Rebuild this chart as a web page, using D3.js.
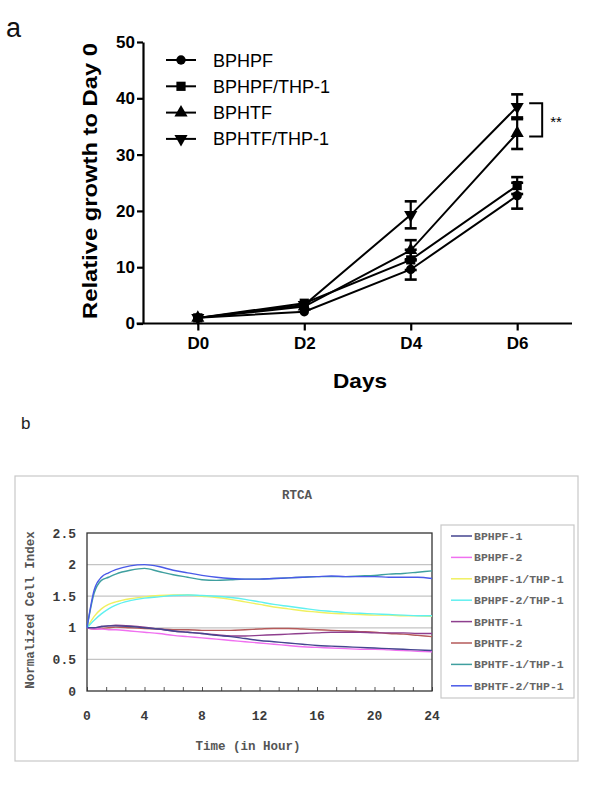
<!DOCTYPE html>
<html><head><meta charset="utf-8">
<script src="https://cdn.jsdelivr.net/npm/d3@7"></script>
<style>
html,body{margin:0;padding:0;background:#fff;}
svg{display:block;}
</style></head>
<body>
<svg id="c" width="606" height="785"></svg>
<script>
// ---------- Panel a data ----------
const days = ["D0","D2","D4","D6"];
const dayNums = [0,2,4,6];
const seriesNamesA = ["BPHPF","BPHPF/THP-1","BPHTF","BPHTF/THP-1"];
const bphpf     = [1, 2.1, 9.6, 22.7];
const bphpfErr  = [0.2, 0.3, 1.8, 2.3];
const bphpfThp  = [1, 3.6, 11.3, 24.5];
const bphpfThpErr = [0.2, 0.4, 1.8, 1.5];
const bphtf     = [1, 3.0, 13.0, 33.8];
const bphtfErr  = [0.2, 0.3, 1.8, 2.8];
const bphtfThp  = [1, 3.3, 19.3, 38.5];
const bphtfThpErr = [0.2, 0.3, 2.4, 2.2];
const yTicksA = [0,10,20,30,40,50];

// ---------- Panel b data ----------
const hours = [0,0.5,1,1.5,2,3,4,5,6,7,8,9,10,11,12,13,14,15,16,17,18,19,20,21,22,23,24];
const seriesNamesB = ["BPHPF-1","BPHPF-2","BPHPF-1/THP-1","BPHPF-2/THP-1","BPHTF-1","BPHTF-2","BPHTF-1/THP-1","BPHTF-2/THP-1"];
const bphpf1    = [1,1.0,1.02,1.03,1.03,1.02,1.0,0.98,0.95,0.93,0.91,0.88,0.86,0.83,0.8,0.78,0.76,0.74,0.72,0.71,0.7,0.69,0.68,0.67,0.66,0.65,0.64];
const bphpf2    = [1,0.98,0.98,0.97,0.97,0.95,0.93,0.91,0.88,0.86,0.84,0.82,0.8,0.78,0.76,0.74,0.72,0.7,0.69,0.68,0.67,0.66,0.66,0.65,0.64,0.63,0.62];
const bphpf1Thp = [1,1.18,1.3,1.37,1.41,1.46,1.49,1.51,1.52,1.52,1.5,1.48,1.45,1.41,1.37,1.33,1.3,1.27,1.25,1.23,1.22,1.21,1.2,1.2,1.19,1.19,1.18];
const bphpf2Thp = [1,1.12,1.22,1.3,1.36,1.43,1.47,1.49,1.51,1.52,1.51,1.5,1.48,1.45,1.41,1.37,1.34,1.31,1.28,1.26,1.24,1.23,1.22,1.21,1.2,1.19,1.19];
const bphtf1    = [1,1.0,1.02,1.03,1.04,1.03,1.01,0.98,0.95,0.93,0.91,0.89,0.87,0.87,0.88,0.89,0.9,0.91,0.92,0.93,0.93,0.93,0.92,0.92,0.92,0.91,0.91];
const bphtf2    = [1,0.98,0.99,1.0,1.01,1.0,0.99,0.98,0.97,0.97,0.96,0.96,0.96,0.97,0.98,0.99,0.99,0.98,0.97,0.96,0.95,0.94,0.93,0.91,0.9,0.88,0.86];
const bphtf1Thp = [1,1.55,1.75,1.8,1.85,1.91,1.94,1.89,1.84,1.8,1.76,1.75,1.76,1.77,1.77,1.78,1.79,1.8,1.81,1.81,1.81,1.82,1.83,1.85,1.86,1.88,1.9];
const bphtf2Thp = [1,1.6,1.8,1.87,1.92,1.98,2.0,1.97,1.91,1.87,1.83,1.8,1.78,1.77,1.77,1.78,1.79,1.8,1.81,1.82,1.81,1.81,1.81,1.8,1.8,1.8,1.78];
const colorsB = ["#45458f","#f070f0","#f0f060","#60f0f0","#8e3f8e","#b55a5a","#3f9f9f","#4a5ae8"];
const yTicksB = [0,0.5,1,1.5,2,2.5];
const yTickLabelsB = ["0","0.5","1","1.5","2","2.5"];
const xLabelTicksB = [0,4,8,12,16,20,24];

const svg = d3.select("#c");

// ================= Panel a =================
const gA = svg.append("g");
gA.append("text").attr("x",6).attr("y",37).attr("font-family","Liberation Sans, Arial").attr("font-size",27).attr("fill","#111").text("a");

const xA = d3.scaleLinear().domain([-1.03,7.03]).range([143,572]);
const yA = d3.scaleLinear().domain([0,50]).range([323.5,42]);

const yAxA = gA.append("g").attr("transform","translate(143,0)")
  .call(d3.axisLeft(yA).tickValues(yTicksA).tickSize(6).tickSizeOuter(0));
yAxA.select(".domain").attr("stroke","#000").attr("stroke-width",2.2);
yAxA.selectAll(".tick line").attr("stroke","#000").attr("stroke-width",2.2);
yAxA.selectAll(".tick text").attr("font-family","Liberation Sans, Arial").attr("font-weight","bold").attr("font-size",17).attr("fill","#000").attr("x",-8);

const xAxA = gA.append("g").attr("transform","translate(0,323.5)")
  .call(d3.axisBottom(xA).tickValues(dayNums).tickFormat((d,i)=>days[i]).tickSize(7).tickSizeOuter(0));
xAxA.select(".domain").remove();
xAxA.append("line").attr("x1",xA(-1.15)).attr("x2",xA(7.03)).attr("y1",0).attr("y2",0).attr("stroke","#000").attr("stroke-width",2.2);
xAxA.selectAll(".tick line").attr("stroke","#000").attr("stroke-width",2.2);
xAxA.selectAll(".tick text").attr("font-family","Liberation Sans, Arial").attr("font-weight","bold").attr("font-size",17).attr("fill","#000").attr("y",13);

gA.append("text").attr("transform","translate(97,181) rotate(-90)").attr("text-anchor","middle")
  .attr("font-family","Liberation Sans, Arial").attr("font-weight","bold").attr("font-size",20)
  .attr("textLength",276).attr("lengthAdjust","spacingAndGlyphs").text("Relative growth to Day 0");
gA.append("text").attr("x",360).attr("y",388).attr("text-anchor","middle")
  .attr("font-family","Liberation Sans, Arial").attr("font-weight","bold").attr("font-size",21)
  .attr("textLength",54).attr("lengthAdjust","spacingAndGlyphs").text("Days");

const seriesA = [
  {name:seriesNamesA[0], v:bphpf, e:bphpfErr, sym:d3.symbolCircle, size:70, rot:0},
  {name:seriesNamesA[1], v:bphpfThp, e:bphpfThpErr, sym:d3.symbolSquare, size:85, rot:0},
  {name:seriesNamesA[2], v:bphtf, e:bphtfErr, sym:d3.symbolTriangle, size:75, rot:0},
  {name:seriesNamesA[3], v:bphtfThp, e:bphtfThpErr, sym:d3.symbolTriangle, size:75, rot:180}
];
const lineA = d3.line().x((d,i)=>xA(dayNums[i])).y(d=>yA(d));
seriesA.forEach(s=>{
  gA.append("path").attr("d",lineA(s.v)).attr("fill","none").attr("stroke","#000").attr("stroke-width",2);
  s.v.forEach((v,i)=>{
    const cx = xA(dayNums[i]);
    const e = s.e[i];
    if (e > 0.5) {
      gA.append("line").attr("x1",cx).attr("x2",cx).attr("y1",yA(v-e)).attr("y2",yA(v+e)).attr("stroke","#000").attr("stroke-width",2.2);
      [v-e,v+e].forEach(w=>gA.append("line").attr("x1",cx-6).attr("x2",cx+6).attr("y1",yA(w)).attr("y2",yA(w)).attr("stroke","#000").attr("stroke-width",2.6));
    }
    gA.append("path").attr("d",d3.symbol(s.sym,s.size)()).attr("transform",`translate(${cx},${yA(v)}) rotate(${s.rot})`).attr("fill","#000");
  });
});

const bx = xA(6)+12;
gA.append("path").attr("d",`M${bx},${yA(bphtfThp[3]+0.6)}H${bx+13}V${yA(bphtf[3]-0.6)}H${bx}`)
  .attr("fill","none").attr("stroke","#000").attr("stroke-width",2);
gA.append("text").attr("x",bx+21).attr("y",yA((bphtfThp[3]+bphtf[3])/2)+7).attr("font-family","Liberation Sans, Arial").attr("font-size",15).text("**");

seriesA.forEach((s,i)=>{
  const ly = 60 + i*26.3;
  gA.append("line").attr("x1",166).attr("x2",196).attr("y1",ly).attr("y2",ly).attr("stroke","#000").attr("stroke-width",2);
  gA.append("path").attr("d",d3.symbol(s.sym,s.size)()).attr("transform",`translate(181,${ly}) rotate(${s.rot})`).attr("fill","#000");
  gA.append("text").attr("x",213).attr("y",ly+6.5).attr("font-family","Liberation Sans, Arial").attr("font-size",18).attr("fill","#000").text(s.name);
});

// ================= Panel b =================
const gB = svg.append("g");
gB.append("text").attr("x",21).attr("y",429).attr("font-family","Liberation Sans, Arial").attr("font-size",17).attr("fill","#222").text("b");
gB.append("rect").attr("x",15).attr("y",476).attr("width",563).attr("height",285).attr("fill","#fff").attr("stroke","#c8c8c8").attr("stroke-width",1.2);

const monoFont = "Liberation Mono, Courier New, monospace";
const txtCol = "#3a3a3a";
gB.append("text").attr("x",297).attr("y",499).attr("text-anchor","middle").attr("font-family",monoFont).attr("font-size",12.5).attr("font-weight","bold").attr("fill","#555").text("RTCA");

const xB = d3.scaleLinear().domain([0,24]).range([87,432]);
const yB = d3.scaleLinear().domain([0,2.5]).range([691,533]);

gB.append("g").selectAll("line").data(yTicksB.filter(d=>d>0 && d<2.5)).join("line")
  .attr("x1",xB(0)).attr("x2",xB(24)).attr("y1",d=>yB(d)).attr("y2",d=>yB(d)).attr("stroke","#c4c4c4").attr("stroke-width",1.2);

const yAxB = gB.append("g").attr("transform",`translate(${xB(0)},0)`)
  .call(d3.axisLeft(yB).tickValues(yTicksB).tickFormat((d,i)=>yTickLabelsB[i]).tickSize(0));
yAxB.select(".domain").remove();
yAxB.selectAll(".tick text").attr("font-family",monoFont).attr("font-size",13).attr("font-weight","bold").attr("fill",txtCol).attr("x",-11);

const minorTicks = d3.range(0,19).map(i=>i*24/18);
const xAxB = gB.append("g").attr("transform",`translate(0,${yB(0)})`)
  .call(d3.axisBottom(xB).tickValues(minorTicks).tickSizeInner(-4).tickSizeOuter(0).tickFormat(""));
xAxB.select(".domain").remove();
xAxB.selectAll(".tick line").attr("stroke","#555").attr("stroke-width",1);
gB.append("g").selectAll("text").data(xLabelTicksB).join("text")
  .attr("x",d=>xB(d)).attr("y",yB(0)+29).attr("text-anchor","middle")
  .attr("font-family",monoFont).attr("font-size",13).attr("font-weight","bold").attr("fill",txtCol).text(d=>d);

gB.append("rect").attr("x",xB(0)).attr("y",yB(2.5)).attr("width",xB(24)-xB(0)).attr("height",yB(0)-yB(2.5))
  .attr("fill","none").attr("stroke","#333").attr("stroke-width",1.3);

gB.append("text").attr("transform","translate(34,610) rotate(-90)").attr("text-anchor","middle")
  .attr("font-family",monoFont).attr("font-size",12.5).attr("font-weight","bold").attr("fill","#555").text("Normalized Cell Index");
gB.append("text").attr("x",248).attr("y",750).attr("text-anchor","middle")
  .attr("font-family",monoFont).attr("font-size",12.5).attr("font-weight","bold").attr("fill","#555").text("Time (in Hour)");

const seriesB = [bphpf1,bphpf2,bphpf1Thp,bphpf2Thp,bphtf1,bphtf2,bphtf1Thp,bphtf2Thp];
const lineB = d3.line().x((d,i)=>xB(hours[i])).y(d=>yB(d)).curve(d3.curveMonotoneX);
const order = [2,3,5,4,1,0,6,7];
order.forEach(k=>{
  gB.append("path").attr("d",lineB(seriesB[k])).attr("fill","none").attr("stroke",colorsB[k]).attr("stroke-width",1.4);
});

gB.append("rect").attr("x",441).attr("y",525).attr("width",133).attr("height",173).attr("fill","#fff").attr("stroke","#c8c8c8").attr("stroke-width",1.2);
seriesNamesB.forEach((n,i)=>{
  const ly = 536 + i*21.4;
  gB.append("line").attr("x1",451).attr("x2",472).attr("y1",ly).attr("y2",ly).attr("stroke",colorsB[i]).attr("stroke-width",1.5);
  gB.append("text").attr("x",474).attr("y",ly+4).attr("font-family",monoFont).attr("font-size",11.5).attr("font-weight","bold").attr("fill","#666").text(n);
});
</script>
</body></html>
